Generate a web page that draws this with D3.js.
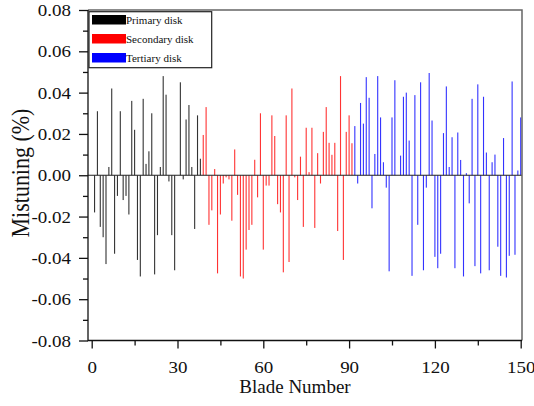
<!DOCTYPE html>
<html>
<head>
<meta charset="utf-8">
<script src="https://cdn.jsdelivr.net/npm/d3@7"></script>
<style>
body{margin:0;background:#fff}
svg text{font-family:"Liberation Serif","DejaVu Serif",serif}
</style>
</head>
<body>
<script>
// mistuning per blade (blades 1-38, 39-91, 92-150)
const primary = [-0.018, 0.031, -0.025, -0.030, -0.043, 0.004, 0.042, -0.038, -0.010, 0.031,
  -0.012, -0.010, -0.019, 0.036, 0.022, -0.041, -0.049, 0.037, 0.0055, 0.0116,
  0.030, -0.048, -0.029, 0.004, 0.048, 0.039, -0.003, -0.029, -0.046, 0,
  0.045, -0.002, 0.027, 0.034, 0.004, -0.026, 0.029, 0.008];
const secondary = [0.0195, 0.033, -0.024, -0.017, 0.003, -0.0475, -0.019, -0.004, -0.001, -0.002,
  -0.022, 0.0125, -0.0095, -0.049, -0.050, -0.036, -0.0265, -0.024, 0.0075, -0.0107,
  0.030, -0.036, -0.005, -0.005, 0.029, 0.019, -0.014, -0.018, -0.047, 0.029,
  -0.042, 0.042, -0.001, -0.012, 0.009, -0.025, 0.023, 0.0015, 0.023, -0.0255,
  0.0107, -0.004, 0.021, 0.033, 0.0157, 0.0099, 0.0157, -0.027, 0.048, -0.041,
  0.021, 0.029, 0.0155];
const tertiary = [0.0238, -0.004, 0.035, 0.025, 0.0475, 0.0375, -0.016, 0.0103, 0.048, 0.028,
  0.0063, -0.006, -0.0465, 0.028, 0.046, 0, 0.0095, 0.038, 0.040, 0.0168,
  -0.0487, 0.0388, -0.024, 0.045, -0.046, -0.006, 0.0495, 0.0265, -0.0395, -0.045,
  -0.038, 0.0204, 0.043, 0.004, 0.0184, -0.045, 0.0207, 0.0074, -0.049, 0.001,
  -0.0136, 0.037, -0.044, 0.044, -0.0475, 0.038, 0.011, -0.046, 0.0063, 0.010,
  -0.0346, -0.0487, 0.018, -0.0495, -0.039, 0.0454, -0.0385, 0.0023, 0.028];

const legendLabels = ["Primary disk", "Secondary disk", "Tertiary disk"];
const colors = ["#000000", "#ff0000", "#0000ff"];
const yTicks = [-0.08, -0.06, -0.04, -0.02, 0, 0.02, 0.04, 0.06, 0.08];
const yMinor = [-0.07, -0.05, -0.03, -0.01, 0.01, 0.03, 0.05, 0.07];
const xTicks = [0, 30, 60, 90, 120, 150];
const xMinor = [15, 45, 75, 105, 135];

const m = {width: 534, height: 406, left: 88, right: 522, top: 10, bottom: 340.5};

let svg = d3.select("body").append("svg")
  .attr("width", m.width)
  .attr("height", m.height);

let x = d3.scaleLinear().domain([0, 150]).range([91.7, 520.7]);
let y = d3.scaleLinear().domain([-0.08, 0.08]).range([m.bottom, m.top]);

let blades = [];
[primary, secondary, tertiary].forEach((s, k) => {
  s.forEach(v => blades.push({n: blades.length + 1, v: v, k: k}));
});

// bars
svg.append("g").selectAll("rect")
  .data(blades)
  .enter()
  .append("rect")
  .attr("x", d => x(d.n) - 0.55)
  .attr("width", 1.1)
  .attr("y", d => Math.min(y(d.v), y(0)))
  .attr("height", d => Math.abs(y(d.v) - y(0)))
  .attr("fill", d => colors[d.k])
  .attr("fill-opacity", 0.8);

// zero line
svg.append("line")
  .attr("x1", m.left).attr("x2", m.right)
  .attr("y1", y(0)).attr("y2", y(0))
  .attr("stroke", "#222").attr("stroke-width", 1.2);

// frame
svg.append("path")
  .attr("d", `M${m.left},${m.top}H${m.right}V${m.bottom}`)
  .attr("fill", "none").attr("stroke", "#666").attr("stroke-width", 1.5);
svg.append("path")
  .attr("d", `M${m.left},${m.top}V${m.bottom}H${m.right}`)
  .attr("fill", "none").attr("stroke", "#111").attr("stroke-width", 1.3);

// y axis
let yAxis = svg.append("g")
  .attr("transform", `translate(${m.left},0)`)
  .call(d3.axisLeft(y).tickValues(yTicks).tickSize(9).tickSizeOuter(0)
    .tickFormat(d => d.toFixed(2)));
svg.append("g")
  .attr("transform", `translate(${m.left},0)`)
  .call(d3.axisLeft(y).tickValues(yMinor).tickSize(5).tickSizeOuter(0).tickFormat(""));

// x axis
let xAxis = svg.append("g")
  .attr("transform", `translate(0,${m.bottom})`)
  .call(d3.axisBottom(x).tickValues(xTicks).tickSize(8).tickSizeOuter(0));
svg.append("g")
  .attr("transform", `translate(0,${m.bottom})`)
  .call(d3.axisBottom(x).tickValues(xMinor).tickSize(5).tickSizeOuter(0).tickFormat(""));

svg.selectAll(".domain").remove();
svg.selectAll("g").attr("font-family", null);
svg.selectAll(".tick line").attr("stroke", "#111").attr("stroke-width", 1.3);

yAxis.selectAll("text")
  .attr("x", 0).attr("dy", "0.34em")
  .attr("transform", "translate(-17,0) scale(1.15,1)")
  .style("font-size", "16.5px").attr("fill", "#111");
xAxis.selectAll("text")
  .attr("y", 0).attr("dy", 0)
  .attr("transform", "translate(0,32.5) scale(1.15,1)")
  .style("font-size", "16.5px").attr("fill", "#111");

// axis titles
svg.append("text")
  .attr("transform", "translate(29,173) rotate(-90) scale(1,1.15)")
  .attr("text-anchor", "middle")
  .style("font-size", "22px").attr("fill", "#111")
  .text("Mistuning (%)");
svg.append("text")
  .attr("x", 295).attr("y", 393)
  .attr("text-anchor", "middle")
  .style("font-size", "19px").attr("fill", "#111")
  .text("Blade Number");

// legend
let legend = svg.append("g");
legend.append("rect")
  .attr("x", 89).attr("y", 11.7)
  .attr("width", 122.7).attr("height", 56)
  .attr("fill", "#fff").attr("stroke", "#222").attr("stroke-width", 1.2);
legendLabels.forEach((lab, i) => {
  let ry = 15 + i * 19;
  legend.append("rect")
    .attr("x", 92).attr("y", ry)
    .attr("width", 34).attr("height", 9.5)
    .attr("fill", colors[i]);
  legend.append("text")
    .attr("x", 126).attr("y", ry + 8.5)
    .style("font-size", "11px").attr("fill", "#111")
    .text(lab);
});
</script>
</body>
</html>
